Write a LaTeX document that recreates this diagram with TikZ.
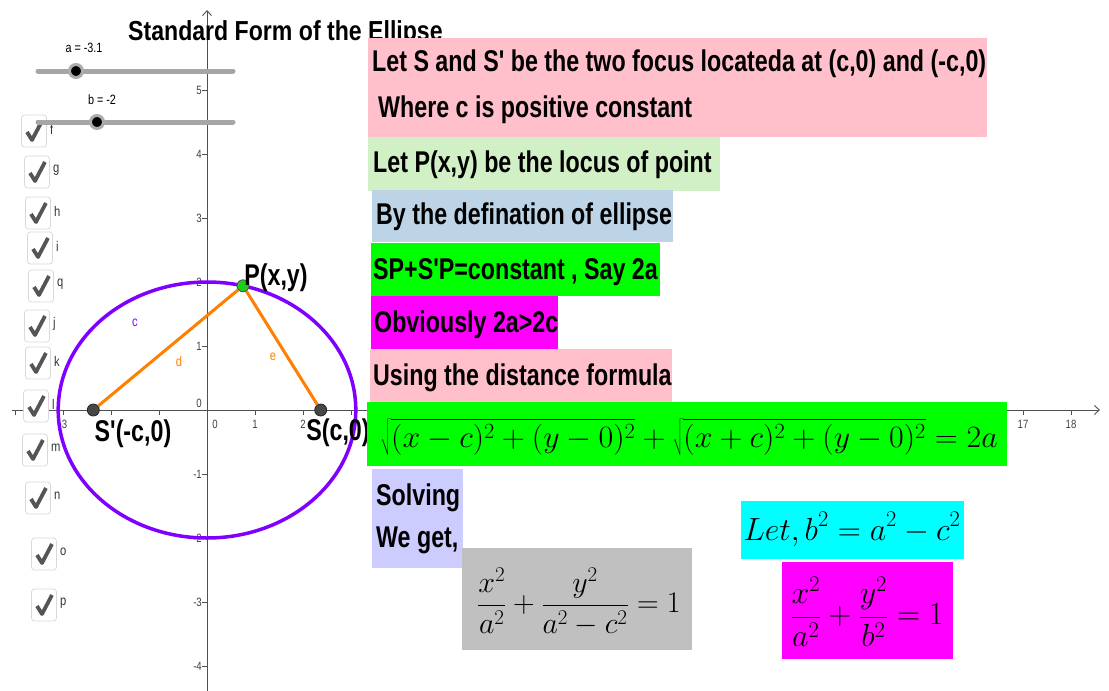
\RequirePackage{fix-cm}
\documentclass[tikz,border=0pt]{standalone}
\usepackage[no-math]{fontspec}
\newfontfamily\af{Liberation Sans}
\usetikzlibrary{arrows.meta}
\definecolor{pinkc}{HTML}{FFC0CB}
\definecolor{lgreen}{HTML}{D2F0C6}
\definecolor{lblue}{HTML}{BCD4E6}
\definecolor{brgreen}{HTML}{00FF00}
\definecolor{magc}{HTML}{FF00FF}
\definecolor{lavc}{HTML}{CCCCFF}
\definecolor{grayc}{HTML}{C0C0C0}
\definecolor{cyanc}{HTML}{00FFFF}
\definecolor{ellc}{HTML}{7F00FF}
\definecolor{orc}{HTML}{FF7F00}
\definecolor{axc}{HTML}{505050}
\definecolor{chkc}{HTML}{555555}
\newcommand\bt[1]{\scalebox{0.775}[1]{\fontsize{30}{36}\selectfont\af\bfseries #1}}
\newcommand\sm[2]{\scalebox{0.8}[1]{\fontsize{#1}{#1}\selectfont\af #2}}
\newcommand\mth[2]{\fontsize{#1}{36}\selectfont$\displaystyle #2$}
\newcommand\mychk[4]{%
  \node[cbox] (#1) at (#2,#3) {};
  \draw[chk] ([shift={(-7,1)}]#1.center) -- ([shift={(-2,9)}]#1.center) -- ([shift={(8,-10)}]#1.center);
  \node[cblbl] (#1l) at ([xshift=3pt,yshift=2pt]#1.east) {\sm{14}{#4}};
}
\begin{document}
\begin{tikzpicture}[x=1pt,y=-1pt,
  axis/.style={draw=axc, line width=0.9pt, -{Straight Barb[length=5pt,width=9pt]}},
  tickm/.style={draw=axc, line width=0.8pt},
  albl/.style={inner sep=0pt, text=black!75},
  box/.style={inner sep=0pt, anchor=north west, draw=none},
  txt/.style={inner sep=0pt, anchor=base west},
  mt/.style={inner sep=0pt},
  fpt/.style={circle, inner sep=0pt, minimum size=12pt, fill=black!72, draw=black!85, line width=0.8pt},
  gpt/.style={circle, inner sep=0pt, minimum size=12pt, fill=brgreen!80!black!90, draw=black!70, line width=0.8pt},
  seg/.style={draw=orc, line width=3pt},
  slider/.style={draw=gray!70, line width=5pt, line cap=round},
  knob/.style={circle, inner sep=0pt, minimum size=13pt, fill=black, draw=gray!65, line width=3pt},
  cbox/.style={draw=gray!30, fill=white, rounded corners=3pt, minimum width=25pt, minimum height=32pt, inner sep=0pt, line width=0.8pt},
  chk/.style={draw=chkc, line width=3.8pt, line join=round},
  cblbl/.style={inner sep=0pt, anchor=west, text=black!80},
]
\useasboundingbox (0,0) rectangle (1109,691);
\fill[white] (0,0) rectangle (1109,691);

% axes
\coordinate (xa) at (12,410);
\coordinate (xb) at (1100,410);
\coordinate (ya) at (207,691);
\coordinate (yb) at (207,10);
\draw[axis] (xa) -- (xb);
\draw[axis] (ya) -- (yb);
\foreach \k in {-4,...,18} {\draw[tickm] ({207+48*\k},410) -- ({207+48*\k},415);}
\foreach \k in {-4,...,-1,1,2,3,4,5} {\draw[tickm] (202,{410-64*\k}) -- (207,{410-64*\k});}
\foreach \k/\t in {-3/-3,1/1,2/2,17/17,18/18} {\node[albl] (xl\t) at ({207+48*\k},424) {\sm{12}{\t}};}
\node[albl] (xl0) at (215,424) {\sm{12}{0}};
\foreach \k in {5,4,3,2,1,-1,-2,-3,-4} {\node[albl, anchor=east] (yl\k) at (202,{410-64*\k}) {\sm{12}{\k}};}
\node[albl, anchor=east] (yl0) at (202,403) {\sm{12}{0}};

% ellipse and points
\draw[ellc, line width=3.5pt] (207,410) ellipse [x radius=148.8, y radius=128];
\node[fpt] (Sp) at (93.3,410) {};
\node[fpt] (S) at (320.7,410) {};
\node[gpt] (P) at (243,285.8) {};
\draw[seg] (Sp) -- (P);
\draw[seg] (P) -- (S);
\node[inner sep=0pt] (Pl) at (276,278) {\bt{P(x,y)}};
\node[inner sep=0pt] (Spl) at (133,434) {\bt{S'(-c,0)}};
\node[inner sep=0pt] (Sl) at (338,433) {\bt{S(c,0)}};
\node[inner sep=0pt, text=ellc] (cl) at (135,323) {\sm{14}{c}};
\node[inner sep=0pt, text=orc] (dl) at (179,361) {\sm{14}{d}};
\node[inner sep=0pt, text=orc] (el) at (273,357) {\sm{14}{e}};

% title
\node[txt] (title) at (128,40) {\scalebox{0.84}[1]{\fontsize{27.5}{33}\selectfont\af\bfseries Standard Form of the Ellipse}};

% checkboxes
\mychk{cf}{34}{131}{f}
\mychk{cg}{37}{172}{g}
\mychk{ch}{38}{213}{h}
\mychk{ci}{40}{248}{i}
\mychk{cq}{41}{286}{q}
\mychk{cj}{37}{326}{j}
\mychk{ck}{38}{363}{k}
\mychk{cl2}{36}{406}{l}
\mychk{cm}{35}{450}{m}
\mychk{cn}{38}{498}{n}
\mychk{co}{44}{554}{o}
\mychk{cp}{44}{605}{p}

% sliders
\coordinate (sa1) at (38,71); \coordinate (sa2) at (233,71);
\coordinate (sb1) at (38,122); \coordinate (sb2) at (233,122);
\draw[slider] (sa1) -- (sa2);
\draw[slider] (sb1) -- (sb2);
\node[knob] (ka) at (76,71) {};
\node[knob] (kb) at (97,122) {};
\node[inner sep=0pt] (la) at (84,48) {\sm{13.5}{a = -3.1}};
\node[inner sep=0pt] (lb) at (102,100) {\sm{13.5}{b = -2}};

% text boxes
\node[box, fill=pinkc, minimum width=619, minimum height=99] (b1) at (368,38) {};
\node[txt] (t1) at (372,71) {\bt{Let S and S' be the two focus locateda at (c,0) and (-c,0)}};
\node[txt] (t2) at (378,117) {\bt{Where c is positive constant}};
\node[box, fill=lgreen, minimum width=352, minimum height=54] (b2) at (368,137) {};
\node[txt] (t3) at (373,172) {\bt{Let P(x,y) be the locus of point}};
\node[box, fill=lblue, minimum width=301, minimum height=52] (b3) at (372,190) {};
\node[txt] (t4) at (376,224) {\bt{By the defination of ellipse}};
\node[box, fill=brgreen, minimum width=289, minimum height=53] (b4) at (371,243) {};
\node[txt] (t5) at (373,279) {\bt{SP+S'P=constant , Say 2a}};
\node[box, fill=magc, minimum width=187, minimum height=53] (b5) at (371,296) {};
\node[txt] (t6) at (374,332) {\bt{Obviously 2a>2c}};
\node[box, fill=pinkc, minimum width=302, minimum height=53] (b6) at (370,349) {};
\node[txt] (t7) at (373,385) {\bt{Using the distance formula}};
\node[box, fill=brgreen, minimum width=640, minimum height=64] (b7) at (367,402) {};
\node[mt, anchor=base] (f1) at (689,447) {\scalebox{1.03}[1]{\mth{31}{\sqrt{(x-c)^2+(y-0)^2}+\sqrt{(x+c)^2+(y-0)^2}=2a}}};
\node[box, fill=lavc, minimum width=91, minimum height=99] (b8) at (372,469) {};
\node[txt] (t8) at (376,505) {\bt{Solving}};
\node[txt] (t9) at (376,547) {\bt{We get,}};
\node[box, fill=grayc, minimum width=230, minimum height=102] (b9) at (462,548) {};
\node[mt] (f2) at (579,602) {\mth{30}{\frac{x^2}{a^2}+\frac{y^2}{a^2-c^2}=1}};
\node[box, fill=cyanc, minimum width=223, minimum height=58] (b10) at (741,501) {};
\node[mt, anchor=base] (f3) at (852,540) {\mth{32}{Let,b^2=a^2-c^2}};
\node[box, fill=magc, minimum width=171, minimum height=97] (b11) at (782,562) {};
\node[mt] (f4) at (867,612) {\mth{32}{\frac{x^2}{a^2}+\frac{y^2}{b^2}=1}};
\end{tikzpicture}
\end{document}
